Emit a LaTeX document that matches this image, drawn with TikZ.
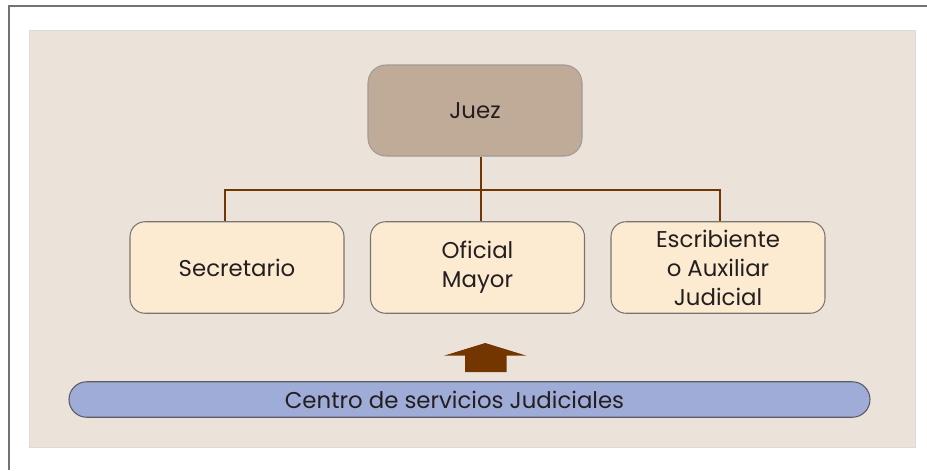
\documentclass[tikz,border=0pt]{standalone}
\usepackage{fontspec}
\setmainfont{Poppins}
\usepackage{xcolor}

\definecolor{panelbg}{HTML}{EBE3DA}
\definecolor{panelrule}{HTML}{DCDAD6}
\definecolor{juezfill}{HTML}{C0AB99}
\definecolor{juezrule}{HTML}{A09A96}
\definecolor{cargofill}{HTML}{FDEBD1}
\definecolor{cargorule}{HTML}{7A7470}
\definecolor{centrofill}{HTML}{A0ACD8}
\definecolor{centrorule}{HTML}{5A5A66}
\definecolor{linkbrown}{HTML}{743600}
\definecolor{textgray}{HTML}{231F20}

\begin{document}
\begin{tikzpicture}[
  every node/.style={text=textgray, font=\fontsize{13}{16.5}\selectfont, align=center},
  juezbox/.style={draw=juezrule, fill=juezfill, rounded corners=0.36cm,
    minimum width=4.28cm, minimum height=1.82cm, line width=0.6pt},
  cargobox/.style={draw=cargorule, fill=cargofill, rounded corners=0.3cm,
    minimum width=4.28cm, minimum height=1.83cm, line width=0.6pt},
  centrobar/.style={draw=centrorule, fill=centrofill, rounded corners=0.355cm,
    minimum width=16.02cm, minimum height=0.71cm, line width=0.6pt},
  link/.style={draw=linkbrown, line width=1.1pt}
]
\useasboundingbox (0,0) rectangle (18.54,9.4);

% frame and panel
\fill[panelbg, draw=panelrule, line width=0.4pt] (0.58,0.46) rectangle (18.30,8.8);
\draw[color=black!55, line width=1.1pt] (0.18,0) -- (0.18,9.28) -- (18.54,9.28);

\node[juezbox] (juez) at (9.5,7.19) {Juez};

\node[cargobox] (sec) at (4.74,4.05) {Secretario};
\node[cargobox] (ofi) at (9.55,4.05) {Oficial\\Mayor};
\node[cargobox] (esc) at (14.36,4.05) {Escribiente\\o Auxiliar\\Judicial};

\node[centrobar] (centro) at (9.39,1.41) {Centro de servicios Judiciales\hspace*{0.6cm}};

\coordinate (bus) at (9.62,5.6);

\draw[link] (bus |- juez.south) -- (bus |- ofi.north);
\draw[link] ([xshift=-2.4mm]sec.north) |- (bus) -| ([xshift=0.4mm]esc.north);

% block arrow up to the cargos
\fill[linkbrown] (9.30,1.96) -- (9.30,2.286) -- (8.88,2.286) -- (9.705,2.54)
  -- (10.53,2.286) -- (10.13,2.286) -- (10.13,1.96) -- cycle;

\end{tikzpicture}
\end{document}
